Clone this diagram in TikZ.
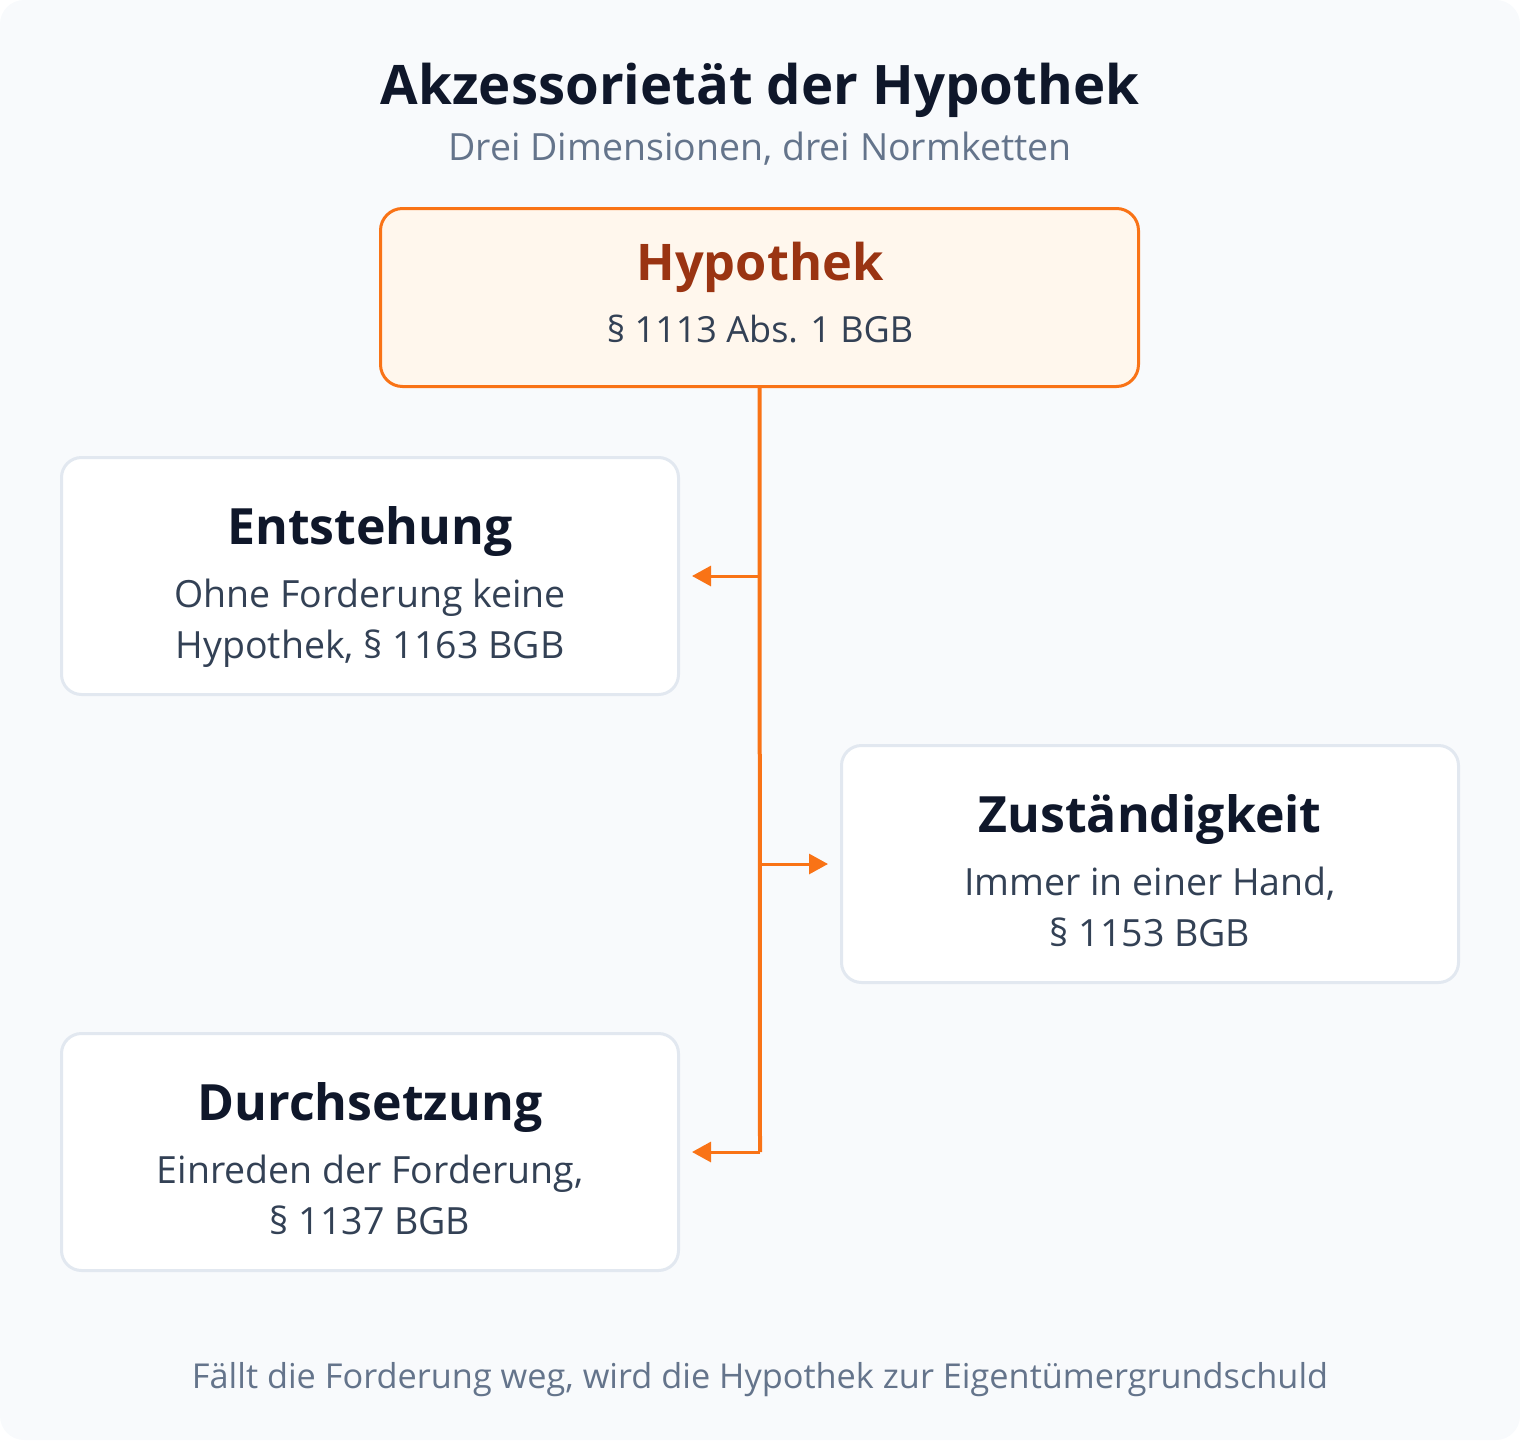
\documentclass[tikz,border=0pt]{standalone}
\usepackage{fontspec}
\setmainfont{Open Sans}
\usetikzlibrary{arrows.meta}
\definecolor{bgc}{HTML}{F8FAFC}
\definecolor{orangec}{HTML}{F97316}
\definecolor{orangefill}{HTML}{FFF7ED}
\definecolor{darkorange}{HTML}{9A3412}
\definecolor{titlec}{HTML}{0F172A}
\definecolor{bodyc}{HTML}{334155}
\definecolor{subc}{HTML}{64748B}
\definecolor{borderc}{HTML}{E2E8F0}
\newcommand{\fs}[1]{\fontsize{#1}{#1}\selectfont}
\tikzset{
  x=1pt,y=-1pt,
  dimbox/.style={draw=borderc,line width=3pt,fill=white,rounded corners=20pt,minimum width=617pt,minimum height=237pt,inner sep=0pt},
  mainbox/.style={draw=orangec,line width=3pt,fill=orangefill,rounded corners=22pt,minimum width=758pt,minimum height=178pt,inner sep=0pt},
  boxtitle/.style={font=\fs{50}\bfseries,text=titlec,anchor=base},
  boxbody/.style={font=\fs{37.5},text=bodyc,align=center,anchor=base},
  conn/.style={draw=orangec,line width=3pt},
  trunk/.style={draw=orangec,line width=4pt},
  arr/.style={conn,-{Triangle[length=19pt,width=20pt]}}
}
\begin{document}
\begin{tikzpicture}
\useasboundingbox (0,0) rectangle (1520,1440);
\fill[bgc,rounded corners=24pt] (0,0) rectangle (1520,1440);
% title
\node[font=\fs{54.5}\bfseries,text=titlec,anchor=base] (title) at (760,104) {Akzessorietät der Hypothek};
\node[font=\fs{37.5},text=subc,anchor=base] (subtitle) at (760,160) {Drei Dimensionen, drei Normketten};
% main box
\node[mainbox] (hyp) at (759.5,297.5) {};
\node[font=\fs{50.5}\bfseries,text=darkorange,anchor=base] (hypt) at (760,280) {Hypothek};
\node[font=\fs{36},text=bodyc,anchor=base] (hypb) at (760,342) {§ 1113 Abs. 1 BGB};
% dimension boxes
\node[dimbox] (ent) at (370,576) {};
\node[boxtitle] (entt) at (370,544) {Entstehung};
\node[boxbody] (entb1) at (370,607) {Ohne Forderung keine};
\node[boxbody] (entb2) at (370,658) {Hypothek, § 1163 BGB};
\node[dimbox] (zus) at (1150,864) {};
\node[boxtitle] (zust) at (1150,832) {Zuständigkeit};
\node[boxbody] (zusb1) at (1150,895) {Immer in einer Hand,};
\node[boxbody] (zusb2) at (1150,946) {§ 1153 BGB};
\node[dimbox] (dur) at (370,1152) {};
\node[boxtitle] (durt) at (370,1120) {Durchsetzung};
\node[boxbody] (durb1) at (370,1183) {Einreden der Forderung,};
\node[boxbody] (durb2) at (370,1234) {§ 1137 BGB};
% connectors
\coordinate (j1) at (760,576);
\coordinate (j2) at (760,864);
\coordinate (j3) at (760,1152);
\draw[trunk] (hyp.south) -- (j3);
\draw[arr] (j1) -- ([xshift=12pt]ent.east);
\draw[arr] (j2) -- ([xshift=-12pt]zus.west);
\draw[arr] (j3) -- ([xshift=12pt]dur.east);
% footer
\node[font=\fs{34.3},text=subc,anchor=base] (footer) at (760,1388) {Fällt die Forderung weg, wird die Hypothek zur Eigentümergrundschuld};
\end{tikzpicture}
\end{document}
